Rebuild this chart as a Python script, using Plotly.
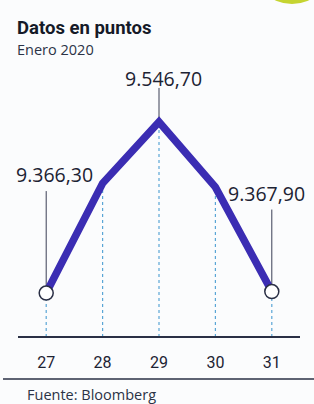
import plotly.graph_objects as go

days = [27, 28, 29, 30, 31]
day_labels = ["27", "28", "29", "30", "31"]
values = [9366.30, 9482.0, 9546.70, 9478.0, 9367.90]
labeled_idx = [0, 2, 4]
label_texts = ["9.366,30", "9.546,70", "9.367,90"]

LINE = "#3b2db3"
TEXT = "#1d2333"
DOT = "#5aa6d6"

W, H = 314, 404
ML, MR, MT, MB = 18, 14, 60, 67
PW = W - ML - MR
PH = H - MT - MB

fig = go.Figure()

# dotted drop lines from each point to the axis
shapes = []
for i, (d, v) in enumerate(zip(days, values)):
    shapes.append(dict(type="line", xref="x", yref="y", x0=d, x1=d,
                       y0=9320, y1=v, line=dict(color=DOT, width=1.2, dash="dot"), layer="below"))

# leader lines (pixel-sized, anchored at data points)
leader = {0: (7, 102), 2: (0, 34), 4: (7, 82)}
label_shift = {0: (8, 103), 2: (4, 28), 4: (-5, 83)}
for i in labeled_idx:
    a, b = leader[i]
    shapes.append(dict(type="line", xref="x", yref="y", xsizemode="pixel", ysizemode="pixel",
                       xanchor=days[i], yanchor=values[i], x0=0, x1=0, y0=a, y1=b,
                       line=dict(color="#3a3f55", width=1), layer="below"))

# axis baseline
shapes.append(dict(type="line", xref="paper", yref="paper", x0=0, x1=1, y0=0, y1=0,
                   line=dict(color="#2a3045", width=2)))
# bottom rule
shapes.append(dict(type="line", xref="paper", yref="paper", ysizemode="pixel", yanchor=0,
                   x0=-15 / PW, x1=1 + MR / PW, y0=-42, y1=-42,
                   line=dict(color="#2a3045", width=1.6)))
# decorative blob at top right
shapes.append(dict(type="circle", xref="paper", yref="paper", xsizemode="pixel", ysizemode="pixel",
                   xanchor=1, yanchor=1, x0=-48, x1=32, y0=56, y1=136,
                   fillcolor="#c5d431", line=dict(width=0)))

fig.add_trace(go.Scatter(x=days, y=values, mode="lines",
                         line=dict(color=LINE, width=7.5), hoverinfo="skip"))
fig.add_trace(go.Scatter(x=[days[0], days[-1]], y=[values[0], values[-1]], mode="markers",
                         marker=dict(size=14, color="white", line=dict(color="#2a2f45", width=1.5)),
                         hoverinfo="skip"))

annotations = []
for i, t in zip(labeled_idx, label_texts):
    xs, ys = label_shift[i]
    annotations.append(dict(x=days[i], y=values[i], xref="x", yref="y", text=t, showarrow=False,
                            xanchor="center", yanchor="bottom", xshift=xs, yshift=ys,
                            font=dict(family="Open Sans", size=19.5, color=TEXT)))

annotations += [
    dict(xref="paper", yref="paper", x=0, y=1, xanchor="left", yanchor="middle", xshift=-3, yshift=32,
         text="<b>Datos en puntos</b>", showarrow=False,
         font=dict(family="Roboto", size=18.5, color="#151a28")),
    dict(xref="paper", yref="paper", x=0, y=1, xanchor="left", yanchor="middle", xshift=-3, yshift=11,
         text="Enero 2020", showarrow=False,
         font=dict(family="Open Sans", size=14.5, color="#2b3346")),
    dict(xref="paper", yref="paper", x=0, y=0, xanchor="left", yanchor="middle", xshift=7, yshift=-57,
         text="Fuente: Bloomberg", showarrow=False,
         font=dict(family="Open Sans", size=14.5, color="#2b3346")),
]

fig.update_layout(
    width=W, height=H, margin=dict(l=ML, r=MR, t=MT, b=MB),
    paper_bgcolor="#fbfcfd", plot_bgcolor="rgba(0,0,0,0)",
    showlegend=False, shapes=shapes, annotations=annotations,
    xaxis=dict(range=[26.5, 31.5], tickmode="array", tickvals=days, ticktext=day_labels,
               showgrid=False, zeroline=False, showline=False, ticks="",
               ticklabelstandoff=14,
               tickfont=dict(family="Roboto", size=16, color=TEXT),
               fixedrange=True),
    yaxis=dict(range=[9320, 9612], visible=False, fixedrange=True),
)

fig.write_html("out.html", config={"displayModeBar": False},
               post_script="document.body.style.margin='0';document.body.style.padding='0';")
